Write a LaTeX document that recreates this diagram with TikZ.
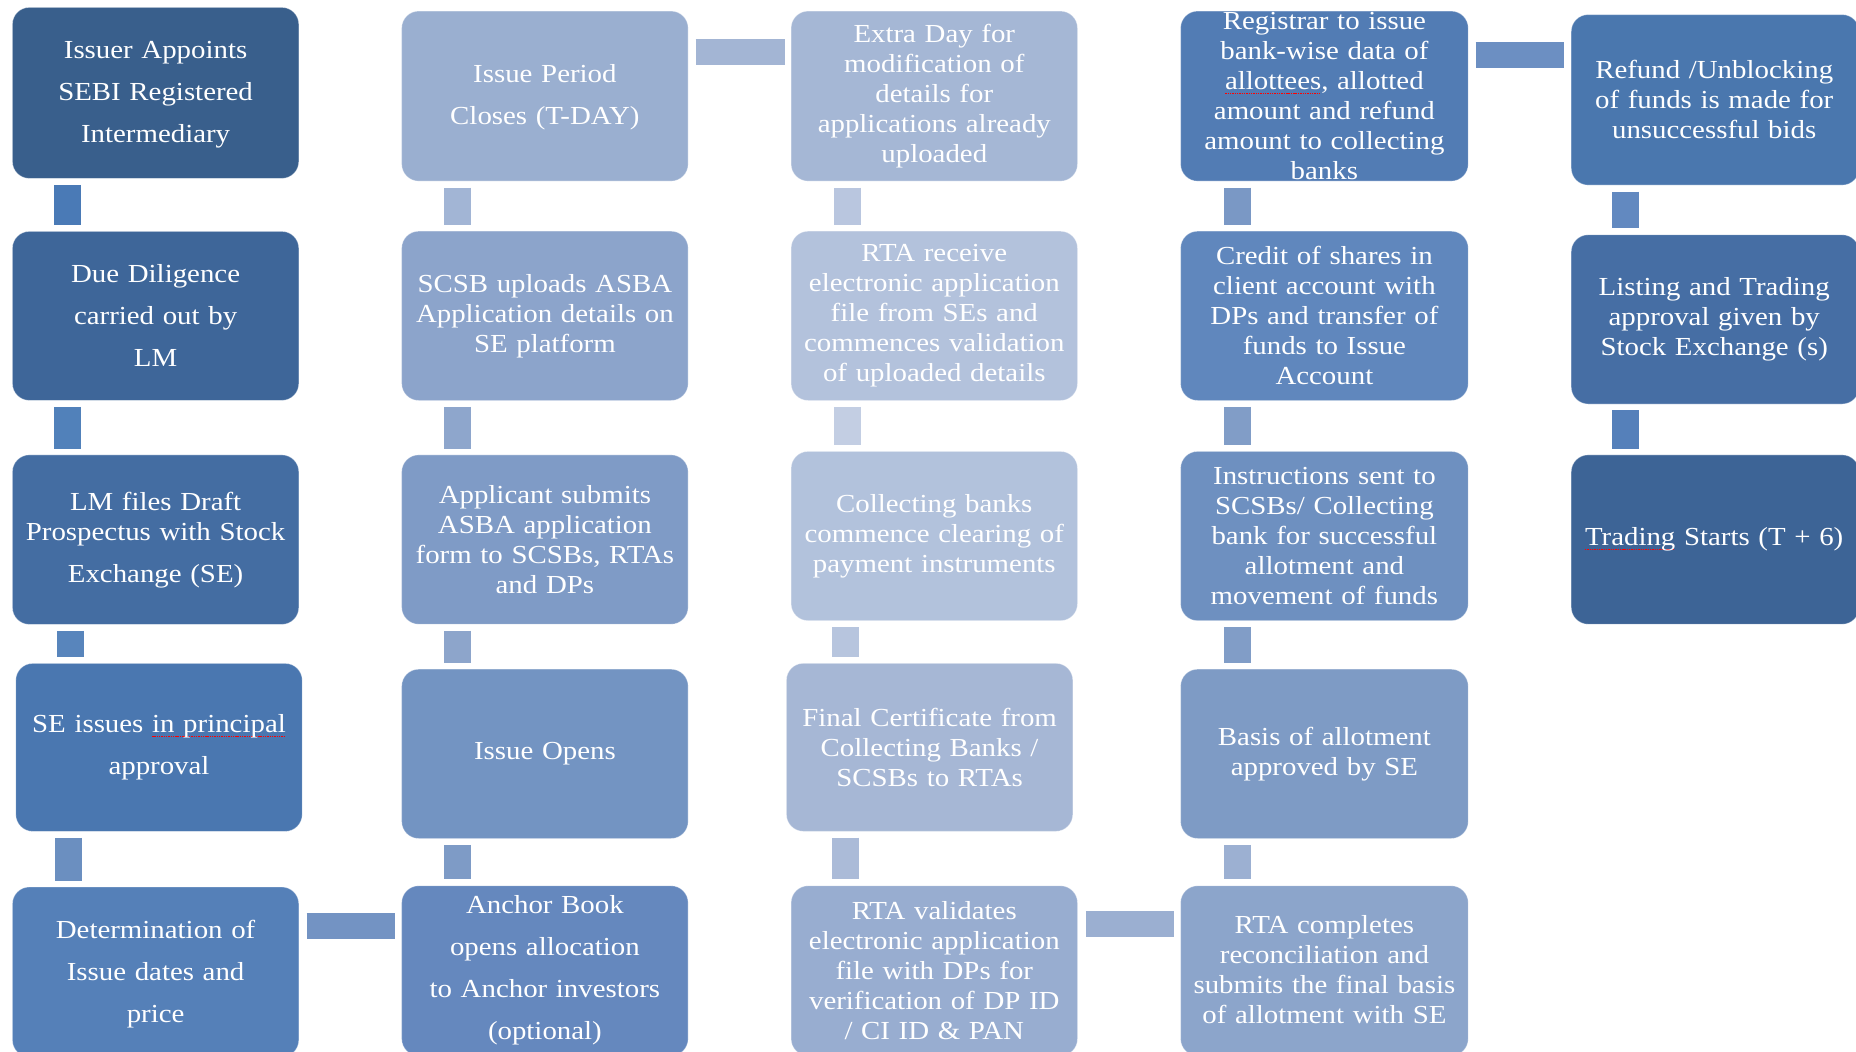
\documentclass[tikz,border=0pt]{standalone}
\usepackage{fontspec}
\setmainfont[FakeStretch=1.11]{Liberation Serif}
\newsavebox\splbox
\newcommand\spl[1]{\leavevmode\sbox\splbox{#1}\rlap{\hbox to \wd\splbox{\color{red}\xleaders\hbox{\rule[-4.5pt]{1.4pt}{0.8pt}\kern0.9pt}\hfill}}\usebox\splbox}
\definecolor{ka}{HTML}{395F8C}\definecolor{kb}{HTML}{3E6699}\definecolor{kc}{HTML}{446DA2}
\definecolor{kd}{HTML}{4A77B0}\definecolor{ke}{HTML}{5580B8}
\definecolor{la}{HTML}{9AAFD0}\definecolor{lb}{HTML}{8CA4CB}\definecolor{lc}{HTML}{7F9BC6}
\definecolor{ld}{HTML}{7394C2}\definecolor{le}{HTML}{6588BE}
\definecolor{ma}{HTML}{A5B7D5}\definecolor{mb}{HTML}{B3C2DC}\definecolor{mc}{HTML}{B2C2DC}
\definecolor{md}{HTML}{A6B7D5}\definecolor{me}{HTML}{98ADD0}
\definecolor{na}{HTML}{527CB4}\definecolor{nb}{HTML}{6087BD}\definecolor{nc}{HTML}{6E90C0}
\definecolor{nd}{HTML}{7E9BC5}\definecolor{ne}{HTML}{8CA5CB}
\definecolor{oa}{HTML}{4A77AE}\definecolor{ob}{HTML}{466EA4}\definecolor{oc}{HTML}{3D6496}
\definecolor{c1a}{HTML}{4A7AB6}\definecolor{c1b}{HTML}{5181BA}\definecolor{c1c}{HTML}{5885BC}\definecolor{c1d}{HTML}{6B8FC0}
\definecolor{c2a}{HTML}{A2B5D5}\definecolor{c2b}{HTML}{8EA6CC}\definecolor{c2c}{HTML}{8DA5CB}\definecolor{c2d}{HTML}{7E9BC6}
\definecolor{c3a}{HTML}{B9C6DF}\definecolor{c3b}{HTML}{C3CEE3}\definecolor{c3c}{HTML}{B7C5DE}\definecolor{c3d}{HTML}{ABBBD8}
\definecolor{c4a}{HTML}{7A98C5}\definecolor{c4b}{HTML}{819DC7}\definecolor{c4c}{HTML}{819DC7}\definecolor{c4d}{HTML}{9CB0D2}
\definecolor{c5a}{HTML}{6289C0}\definecolor{c5b}{HTML}{5580BA}
\definecolor{hA}{HTML}{A3B5D4}\definecolor{hB}{HTML}{6C8FC2}\definecolor{hC}{HTML}{7393C3}\definecolor{hD}{HTML}{9BAFD1}
\tikzset{
  bx/.style={anchor=north west, rounded corners=17pt, inner sep=0pt, minimum width=286.4pt, minimum height=170pt, draw=white, draw opacity=0.35, line width=0.8pt},
  tx/.style={text=white, align=center, text width=282pt, inner sep=0pt, font=\fontsize{26}{30}\selectfont},
  txw/.style={tx, font=\fontsize{26}{42}\selectfont},
  vc/.style={line width=27pt, shorten <=6pt, shorten >=6pt},
  hc/.style={line width=26pt}
}
\begin{document}
\begin{tikzpicture}[x=1pt,y=-1pt]
\useasboundingbox (0,0) rectangle (1856,1052);
% column 1
\node[bx, fill=ka, minimum height=171pt] (c1r1) at (12,7) {};
\node[bx, fill=kb, minimum height=169pt] (c1r2) at (12,231) {};
\node[bx, fill=kc, minimum height=169.5pt] (c1r3) at (12,454.5) {};
\node[bx, fill=kd, minimum height=168pt] (c1r4) at (15.4,663) {};
\node[bx, fill=ke] (c1r5) at (12,886.6) {};
% column 2
\node[bx, fill=la] (c2r1) at (401.3,10.7) {};
\node[bx, fill=lb, minimum height=169.3pt] (c2r2) at (401.3,230.8) {};
\node[bx, fill=lc, minimum height=169.3pt] (c2r3) at (401.3,454.5) {};
\node[bx, fill=ld, minimum height=169.3pt] (c2r4) at (401.3,668.8) {};
\node[bx, fill=le] (c2r5) at (401.3,885.4) {};
% column 3
\node[bx, fill=ma] (c3r1) at (790.7,10.7) {};
\node[bx, fill=mb, minimum height=169.3pt] (c3r2) at (790.7,230.8) {};
\node[bx, fill=mc, minimum height=169.3pt] (c3r3) at (790.7,451) {};
\node[bx, fill=md, minimum height=168pt] (c3r4) at (786,662.9) {};
\node[bx, fill=me] (c3r5) at (790.7,885.4) {};
% column 4
\node[bx, fill=na, minimum width=287.6pt] (c4r1) at (1180.2,10.7) {};
\node[bx, fill=nb, minimum width=287.6pt, minimum height=169.3pt] (c4r2) at (1180.2,230.8) {};
\node[bx, fill=nc, minimum width=287.6pt, minimum height=169.3pt] (c4r3) at (1180.2,451) {};
\node[bx, fill=nd, minimum width=287.6pt, minimum height=169.3pt] (c4r4) at (1180.2,668.8) {};
\node[bx, fill=ne, minimum width=287.6pt] (c4r5) at (1180.2,885.4) {};
% column 5
\node[bx, fill=oa, minimum width=288pt, minimum height=170.5pt] (c5r1) at (1570.8,14.2) {};
\node[bx, fill=ob, minimum width=288pt, minimum height=169.2pt] (c5r2) at (1570.8,234.4) {};
\node[bx, fill=oc, minimum width=288pt, minimum height=169.3pt] (c5r3) at (1570.8,454.5) {};
% vertical connectors
\draw[vc, c1a] ([xshift=55pt]c1r1.south west) -- ([xshift=55pt]c1r1.south west |- c1r2.north);
\draw[vc, c1b] ([xshift=55pt]c1r2.south west) -- ([xshift=55pt]c1r2.south west |- c1r3.north);
\draw[vc, c1c] ([xshift=58pt]c1r3.south west) -- ([xshift=58pt]c1r3.south west |- c1r4.north);
\draw[vc, c1d] ([xshift=53pt]c1r4.south west) -- ([xshift=53pt]c1r4.south west |- c1r5.north);
\draw[vc, c2a] ([xshift=56pt]c2r1.south west) -- ([xshift=56pt]c2r1.south west |- c2r2.north);
\draw[vc, c2b] ([xshift=56pt]c2r2.south west) -- ([xshift=56pt]c2r2.south west |- c2r3.north);
\draw[vc, c2c] ([xshift=56pt]c2r3.south west) -- ([xshift=56pt]c2r3.south west |- c2r4.north);
\draw[vc, c2d] ([xshift=56pt]c2r4.south west) -- ([xshift=56pt]c2r4.south west |- c2r5.north);
\draw[vc, c3a] ([xshift=57pt]c3r1.south west) -- ([xshift=57pt]c3r1.south west |- c3r2.north);
\draw[vc, c3b] ([xshift=57pt]c3r2.south west) -- ([xshift=57pt]c3r2.south west |- c3r3.north);
\draw[vc, c3c] ([xshift=55pt]c3r3.south west) -- ([xshift=55pt]c3r3.south west |- c3r4.north);
\draw[vc, c3d] ([xshift=59pt]c3r4.south west) -- ([xshift=59pt]c3r4.south west |- c3r5.north);
\draw[vc, c4a] ([xshift=57pt]c4r1.south west) -- ([xshift=57pt]c4r1.south west |- c4r2.north);
\draw[vc, c4b] ([xshift=57pt]c4r2.south west) -- ([xshift=57pt]c4r2.south west |- c4r3.north);
\draw[vc, c4c] ([xshift=57pt]c4r3.south west) -- ([xshift=57pt]c4r3.south west |- c4r4.north);
\draw[vc, c4d] ([xshift=57pt]c4r4.south west) -- ([xshift=57pt]c4r4.south west |- c4r5.north);
\draw[vc, c5a] ([xshift=55pt]c5r1.south west) -- ([xshift=55pt]c5r1.south west |- c5r2.north);
\draw[vc, c5b] ([xshift=55pt]c5r2.south west) -- ([xshift=55pt]c5r2.south west |- c5r3.north);
% horizontal connectors
\draw[hc, hA, shorten <=7pt, shorten >=6pt] ([yshift=-41pt]c2r1.north east) -- ([yshift=-41pt]c2r1.north east -| c3r1.west);
\draw[hc, hB, shorten <=7pt, shorten >=7pt] ([yshift=-44pt]c4r1.north east) -- ([yshift=-44pt]c4r1.north east -| c5r1.west);
\draw[hc, hC, shorten <=7.4pt, shorten >=6pt] ([yshift=-39pt]c1r5.north east) -- ([yshift=-39pt]c1r5.north east -| c2r5.west);
\draw[hc, hD, shorten <=8pt, shorten >=6pt] ([yshift=-39pt]c3r5.north east) -- ([yshift=-39pt]c3r5.north east -| c4r5.west);
% texts
\node[txw] (t11) at ([yshift=-2pt]c1r1.center) {Issuer Appoints\\SEBI Registered\\Intermediary};
\node[txw] (t12) at (c1r2) {Due Diligence\\carried out by\\LM};
\node[tx] (t13) at (c1r3) {LM files Draft\\Prospectus with Stock\\[12pt]Exchange (SE)};
\node[txw] (t14) at (c1r4) {SE issues \spl{in principal}\\approval};
\node[txw] (t15) at ([yshift=-2pt]c1r5.center) {Determination of\\Issue dates and\\price};
\node[txw] (t21) at ([yshift=-1pt]c2r1.center) {Issue Period\\Closes (T-DAY)};
\node[tx] (t22) at (c2r2) {SCSB uploads ASBA\\Application details on\\SE platform};
\node[tx] (t23) at (c2r3) {Applicant submits\\ASBA application\\form to SCSBs, RTAs\\and DPs};
\node[tx] (t24) at (c2r4) {Issue Opens};
\node[txw] (t25) at ([yshift=0.5pt]c2r5.center) {Anchor Book\\opens allocation\\to Anchor investors\\(optional)};
\node[tx] (t31) at (c3r1) {Extra Day for\\modification of\\details for\\applications already\\uploaded};
\node[tx] (t32) at (c3r2) {RTA receive\\electronic application\\file from SEs and\\commences validation\\of uploaded details};
\node[tx] (t33) at (c3r3) {Collecting banks\\commence clearing of\\payment instruments};
\node[tx] (t34) at (c3r4) {Final Certificate from\\Collecting Banks /\\SCSBs to RTAs};
\node[tx] (t35) at (c3r5) {RTA validates\\electronic application\\file with DPs for\\verification of DP ID\\/ CI ID \& PAN};
\node[tx] (t41) at (c4r1) {Registrar to issue\\bank-wise data of\\\spl{allottees}, allotted\\amount and refund\\amount to collecting\\banks};
\node[tx] (t42) at (c4r2) {Credit of shares in\\client account with\\DPs and transfer of\\funds to Issue\\Account};
\node[tx] (t43) at (c4r3) {Instructions sent to\\SCSBs/ Collecting\\bank for successful\\allotment and\\movement of funds};
\node[tx] (t44) at (c4r4) {Basis of allotment\\approved by SE};
\node[tx] (t45) at ([yshift=1pt]c4r5.center) {RTA completes\\reconciliation and\\submits the final basis\\of allotment with SE};
\node[tx] (t51) at ([xshift=-1pt]c5r1.center) {Refund /Unblocking\\of funds is made for\\unsuccessful bids};
\node[tx] (t52) at ([xshift=-1pt]c5r2.center) {Listing and Trading\\approval given by\\Stock Exchange (s)};
\node[tx] (t53) at ([xshift=-1pt]c5r3.center) {\spl{Trading} Starts (T + 6)};
\end{tikzpicture}
\end{document}
